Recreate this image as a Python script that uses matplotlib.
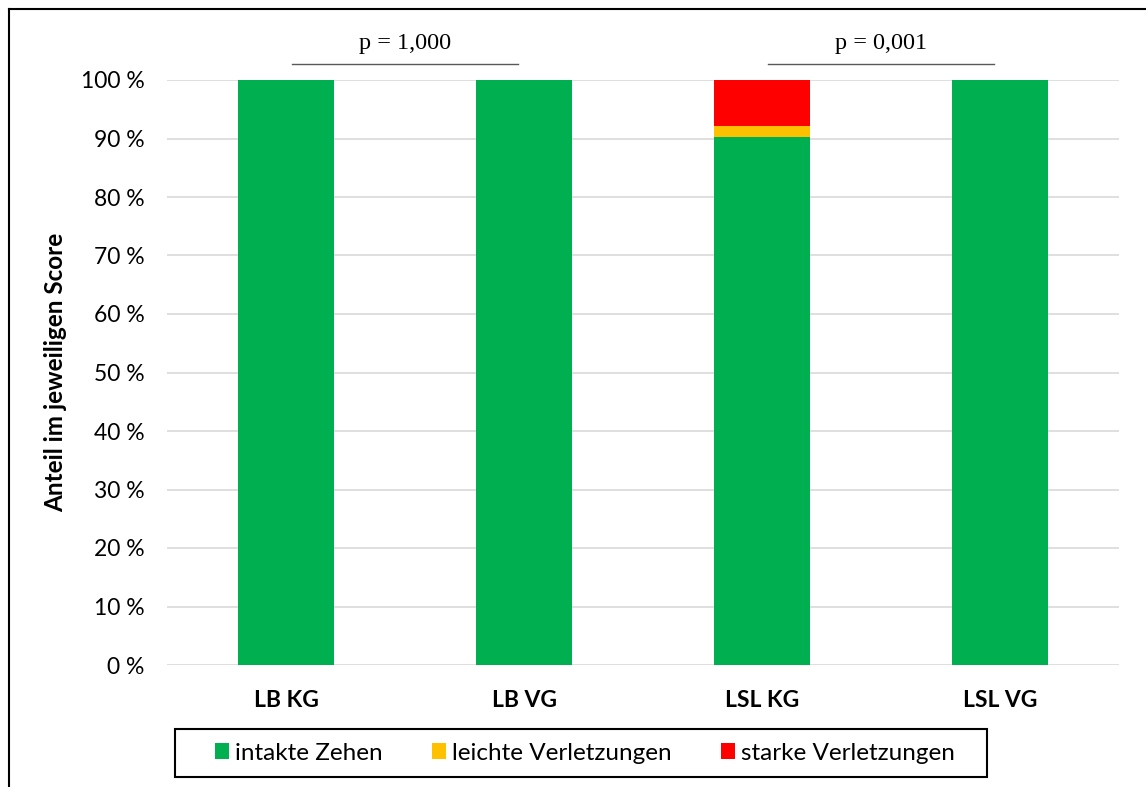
import matplotlib
matplotlib.use("Agg")
import matplotlib.pyplot as plt
from matplotlib.lines import Line2D
from matplotlib.patches import Rectangle
import numpy as np

# data
groups = ["LB KG", "LB VG", "LSL KG", "LSL VG"]
intakt = [100.0, 100.0, 90.2, 100.0]
leicht = [0.0, 0.0, 2.0, 0.0]
stark = [0.0, 0.0, 7.8, 0.0]
series_names = ["intakte Zehen", "leichte Verletzungen", "starke Verletzungen"]
series_colors = ["#00B050", "#FFC000", "#FF0000"]
p_labels = ["p = 1,000", "p = 0,001"]
p_pairs = [(0, 1), (2, 3)]

plt.rcParams['font.family'] = ['Lato', 'DejaVu Sans']

W, H = 1146, 787
fig = plt.figure(figsize=(W / 100, H / 100), dpi=100)

# outer frame (cut off on right and bottom like the reference)
fig.add_artist(Line2D([9 / W, 9 / W], [0, 1 - 9 / H], color="black", lw=1.5,
                      transform=fig.transFigure))
fig.add_artist(Line2D([9 / W, 1], [1 - 9 / H, 1 - 9 / H], color="black", lw=1.5,
                      transform=fig.transFigure))

ax = fig.add_axes([167 / W, 122 / H, (1119 - 167) / W, (665 - 80) / H])

x = np.arange(len(groups))
width = 0.4
bottom = np.zeros(len(groups))
for vals, name, col in zip([intakt, leicht, stark], series_names, series_colors):
    ax.bar(x, vals, width, bottom=bottom, color=col, label=name, zorder=3)
    bottom += np.array(vals)

ax.set_xlim(-0.5, len(groups) - 0.5)
ax.set_ylim(0, 100)
ax.set_yticks(np.arange(0, 101, 10))
ax.set_yticklabels([f"{v} %" for v in range(0, 101, 10)], fontsize=16.5)
ax.set_xticks(x)
ax.set_xticklabels(groups, fontsize=16.5, fontweight="bold")
ax.tick_params(axis="both", length=0)
ax.tick_params(axis="y", pad=16)
ax.tick_params(axis="x", pad=18)
ax.grid(axis="y", color="#D9D9D9", lw=1.2, zorder=0)
for s in ax.spines.values():
    s.set_visible(False)
ax.set_ylabel("Anteil im jeweiligen Score", fontsize=17.5, fontweight="bold", labelpad=10)

# significance lines
for (a, b), lab in zip(p_pairs, p_labels):
    ax.plot([a + 0.025, b - 0.025], [102.7, 102.7], color="#595959", lw=1, clip_on=False)
    ax.text((a + b) / 2, 106.3, lab, ha="center", va="center", fontsize=17.5,
            family="Liberation Serif")

# legend with its own box
fig.add_artist(Rectangle((175 / W, 1 - 777 / H), (987 - 175) / W, 48 / H,
                         transform=fig.transFigure, fill=False,
                         edgecolor="black", lw=1.5))
ax.legend(loc="center", bbox_to_anchor=(585 / W, 1 - 753 / H),
          bbox_transform=fig.transFigure, ncol=3, fontsize=17.5,
          frameon=False, handlelength=0.6, handleheight=0.6,
          handletextpad=0.25, columnspacing=2.0, borderpad=0.5)

fig.savefig("out.png", dpi=100)
